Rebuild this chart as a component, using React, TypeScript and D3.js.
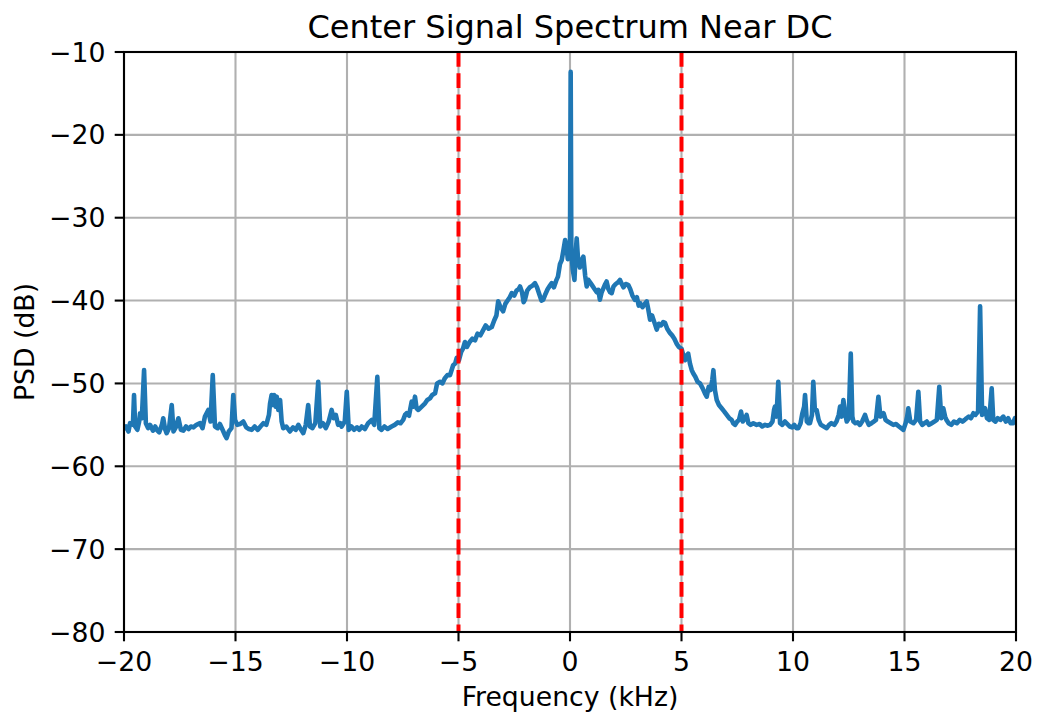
import React from 'react';
import * as d3 from 'd3';

// frequency (kHz) and PSD (dB)
const freqKHz = [
  -20.00, -19.90, -19.80, -19.73, -19.60, -19.55, -19.50, -19.40, -19.32, -19.28, -19.20, -19.10, -19.02, -18.92, -18.83,
  -18.70, -18.60, -18.53, -18.42, -18.30, -18.24, -18.16, -18.09, -17.98, -17.86, -17.78, -17.68, -17.56, -17.45, -17.34,
  -17.22, -17.10, -17.00, -16.88, -16.75, -16.59, -16.48, -16.37, -16.22, -16.12, -16.02, -15.92, -15.80, -15.70, -15.58,
  -15.48, -15.40, -15.30, -15.18, -15.10, -15.02, -14.92, -14.80, -14.65, -14.52, -14.40, -14.27, -14.14, -14.00, -13.88,
  -13.75, -13.62, -13.50, -13.45, -13.38, -13.30, -13.27, -13.20, -13.15, -13.08, -13.00, -12.93, -12.86, -12.72, -12.56,
  -12.42, -12.30, -12.18, -12.08, -11.96, -11.85, -11.74, -11.66, -11.55, -11.42, -11.29, -11.20, -11.08, -10.95, -10.82,
  -10.69, -10.60, -10.50, -10.40, -10.30, -10.24, -10.10, -10.01, -9.92, -9.80, -9.68, -9.55, -9.45, -9.34, -9.20,
  -9.05, -8.89, -8.78, -8.64, -8.55, -8.45, -8.32, -8.18, -8.00, -7.86, -7.72, -7.60, -7.48, -7.40, -7.33,
  -7.22, -7.10, -7.02, -6.95, -6.88, -6.80, -6.65, -6.50, -6.40, -6.28, -6.18, -6.05, -5.96, -5.83, -5.72,
  -5.62, -5.50, -5.38, -5.24, -5.15, -5.08, -4.98, -4.88, -4.80, -4.71, -4.62, -4.50, -4.38, -4.26, -4.15,
  -4.02, -3.90, -3.78, -3.65, -3.51, -3.40, -3.30, -3.22, -3.12, -3.00, -2.90, -2.80, -2.70, -2.61, -2.50,
  -2.40, -2.30, -2.24, -2.15, -2.08, -2.02, -1.92, -1.80, -1.68, -1.57, -1.48, -1.38, -1.28, -1.20, -1.10,
  -1.00, -0.90, -0.82, -0.72, -0.62, -0.54, -0.45, -0.37, -0.30, -0.22, -0.15, -0.10, -0.05, 0.00, 0.03,
  0.06, 0.12, 0.20, 0.25, 0.30, 0.36, 0.44, 0.52, 0.60, 0.68, 0.75, 0.82, 0.90, 1.00, 1.10,
  1.20, 1.27, 1.34, 1.42, 1.50, 1.58, 1.64, 1.72, 1.80, 1.87, 1.95, 2.05, 2.15, 2.24, 2.32,
  2.40, 2.50, 2.61, 2.70, 2.80, 2.91, 3.00, 3.08, 3.14, 3.25, 3.35, 3.44, 3.52, 3.59, 3.68,
  3.78, 3.89, 3.98, 4.08, 4.18, 4.26, 4.36, 4.48, 4.58, 4.68, 4.78, 4.88, 5.00, 5.08, 5.16,
  5.24, 5.30, 5.38, 5.46, 5.53, 5.62, 5.72, 5.83, 5.95, 6.05, 6.13, 6.22, 6.30, 6.38, 6.43,
  6.50, 6.58, 6.68, 6.80, 6.92, 7.03, 7.14, 7.25, 7.32, 7.40, 7.50, 7.58, 7.67, 7.75, 7.85,
  7.92, 8.00, 8.10, 8.22, 8.37, 8.50, 8.62, 8.75, 8.87, 8.97, 9.08, 9.15, 9.19, 9.26, 9.34,
  9.42, 9.52, 9.64, 9.75, 9.86, 9.96, 10.06, 10.15, 10.24, 10.34, 10.42, 10.50, 10.54, 10.62, 10.70,
  10.76, 10.85, 10.91, 10.98, 11.06, 11.15, 11.25, 11.38, 11.51, 11.62, 11.72, 11.85, 11.95, 12.05, 12.11,
  12.18, 12.26, 12.34, 12.41, 12.50, 12.59, 12.66, 12.71, 12.80, 12.90, 13.00, 13.10, 13.23, 13.30, 13.40,
  13.52, 13.62, 13.72, 13.83, 13.92, 14.00, 14.06, 14.15, 14.25, 14.38, 14.50, 14.62, 14.75, 14.85, 14.95,
  15.05, 15.12, 15.17, 15.26, 15.40, 15.52, 15.62, 15.70, 15.80, 15.90, 16.00, 16.10, 16.22, 16.34, 16.45,
  16.56, 16.65, 16.74, 16.82, 16.88, 16.98, 17.10, 17.22, 17.35, 17.48, 17.60, 17.70, 17.78, 17.88, 17.98,
  18.09, 18.18, 18.30, 18.39, 18.48, 18.55, 18.61, 18.70, 18.80, 18.91, 18.98, 19.08, 19.18, 19.30, 19.43,
  19.55, 19.65, 19.76, 19.87, 19.95, 20.00,
];

const psdDb = [
  -55.6, -55.2, -55.8, -54.8, -55.0, -51.4, -55.2, -55.6, -54.6, -53.6, -54.2, -48.4, -54.8, -55.4, -55.0,
  -55.7, -55.2, -55.6, -55.9, -55.0, -54.2, -55.5, -56.0, -55.4, -52.6, -55.8, -55.3, -54.2, -55.6, -55.7,
  -55.2, -55.5, -55.2, -55.3, -55.0, -54.8, -55.4, -54.0, -53.2, -54.6, -49.0, -55.2, -55.4, -54.9, -55.6,
  -56.2, -56.6, -55.8, -55.4, -51.4, -54.4, -55.0, -54.9, -54.6, -55.3, -55.5, -55.6, -55.2, -55.6, -55.2,
  -54.8, -55.0, -53.8, -52.4, -51.4, -52.6, -51.4, -52.8, -51.6, -53.2, -52.0, -54.6, -55.4, -55.2, -55.8,
  -55.3, -55.6, -55.0, -55.5, -56.0, -55.0, -52.6, -55.2, -55.4, -54.8, -49.8, -55.2, -54.8, -55.4, -54.6,
  -53.2, -54.2, -53.8, -55.0, -54.8, -55.2, -54.6, -51.0, -55.6, -55.2, -55.6, -55.3, -55.6, -55.2, -55.5,
  -54.8, -54.4, -55.0, -49.2, -55.4, -55.6, -55.2, -55.5, -55.2, -55.0, -54.7, -54.8, -54.4, -53.8, -53.6,
  -53.9, -52.2, -52.8, -51.6, -53.0, -53.2, -52.8, -52.4, -52.0, -51.8, -51.4, -51.2, -50.0, -49.8, -50.0,
  -49.4, -49.0, -49.0, -47.8, -47.6, -46.9, -47.2, -46.2, -45.8, -45.0, -45.6, -45.0, -44.6, -44.8, -44.0,
  -44.2, -43.6, -43.0, -43.4, -43.2, -42.4, -41.8, -40.1, -40.8, -41.3, -40.4, -40.0, -39.6, -39.1, -39.4,
  -38.8, -38.6, -38.3, -39.0, -40.2, -39.9, -38.8, -38.4, -38.2, -37.9, -38.4, -39.2, -40.0, -39.9, -39.2,
  -38.6, -38.2, -37.9, -38.4, -37.6, -37.1, -35.6, -35.1, -34.0, -32.7, -33.6, -35.0, -34.0, -33.1, -12.4,
  -34.0, -36.2, -37.5, -34.4, -32.5, -35.0, -36.0, -35.1, -34.7, -37.0, -38.3, -37.5, -37.8, -38.2, -38.6,
  -39.0, -38.7, -39.9, -39.0, -38.5, -38.0, -37.7, -38.6, -39.0, -39.1, -38.3, -38.0, -37.8, -37.5, -38.0,
  -38.4, -38.0, -38.1, -38.6, -39.4, -39.9, -39.6, -40.6, -40.3, -40.8, -40.4, -40.1, -41.2, -42.3, -41.8,
  -42.6, -43.5, -42.8, -43.0, -42.6, -42.7, -43.4, -43.9, -44.2, -44.6, -45.2, -45.6, -45.8, -46.6, -47.2,
  -46.6, -46.4, -47.6, -48.4, -48.8, -49.2, -49.8, -50.0, -50.6, -51.2, -51.6, -50.4, -50.8, -49.6, -48.4,
  -50.8, -52.0, -52.6, -53.0, -53.4, -53.8, -54.2, -54.4, -54.8, -55.0, -54.6, -54.4, -53.4, -54.6, -54.2,
  -53.8, -54.8, -55.0, -54.8, -55.0, -54.9, -55.2, -55.0, -55.1, -55.0, -54.6, -53.2, -52.8, -54.0, -49.8,
  -54.8, -55.0, -54.6, -54.9, -55.2, -55.3, -55.0, -55.4, -55.4, -54.8, -53.6, -52.8, -51.4, -54.6, -54.8,
  -54.8, -53.8, -49.8, -53.2, -53.2, -54.4, -55.0, -55.2, -55.4, -55.0, -54.8, -55.0, -54.6, -53.8, -52.8,
  -54.0, -52.0, -53.6, -54.6, -54.2, -46.4, -54.0, -54.6, -54.8, -54.7, -55.0, -54.6, -53.8, -54.4, -55.0,
  -54.8, -54.6, -54.4, -51.6, -54.0, -53.8, -53.6, -54.4, -54.6, -54.8, -55.0, -54.9, -55.2, -55.4, -55.6,
  -54.8, -54.0, -53.0, -54.6, -54.8, -54.4, -51.0, -54.6, -55.0, -54.8, -54.6, -55.0, -54.8, -54.6, -54.4,
  -50.4, -54.2, -53.0, -54.0, -54.4, -54.8, -55.0, -54.6, -54.8, -54.4, -54.6, -54.4, -54.2, -54.0, -54.2,
  -53.6, -53.8, -53.4, -40.7, -53.8, -53.2, -53.0, -54.2, -54.4, -50.6, -54.4, -54.6, -54.2, -54.4, -54.0,
  -54.6, -54.2, -54.8, -54.8, -54.2, -54.6,
];

const xTicks = [-20, -15, -10, -5, 0, 5, 10, 15, 20];
const yTicks = [-80, -70, -60, -50, -40, -30, -20, -10];
const cutoffs = [-5, 5];

const W = 1037;
const H = 715;
const left = 124, right = 1016, top = 52, bottom = 632;
const font = 'DejaVu Sans, sans-serif';
const minus = (v: number) => String(v).replace('-', '\u2212');

export default function App() {
  const x = d3.scaleLinear().domain([-20, 20]).range([left, right]);
  const y = d3.scaleLinear().domain([-80, -10]).range([bottom, top]);

  const pts = freqKHz.map((f, i) => [f, psdDb[i]] as [number, number]);
  const path = d3.line<[number, number]>()
    .x(d => x(d[0]))
    .y(d => y(d[1]))(pts) || '';

  return (
    <svg width={W} height={H} style={{ position: 'absolute', left: 0, top: 0, background: '#fff' }}>
      <defs>
        <clipPath id="plot">
          <rect x={left} y={top} width={right - left} height={bottom - top} />
        </clipPath>
      </defs>

      {/* grid */}
      <g stroke="#b0b0b0" strokeWidth={2.1}>
        {xTicks.map(t => <line key={'gx' + t} x1={x(t)} x2={x(t)} y1={top} y2={bottom} />)}
        {yTicks.map(t => <line key={'gy' + t} x1={left} x2={right} y1={y(t)} y2={y(t)} />)}
      </g>

      <g clipPath="url(#plot)">
        <path d={path} fill="none" stroke="#1f77b4" strokeWidth={4.6} strokeLinejoin="round" />
        {cutoffs.map(c => (
          <line key={'c' + c} x1={x(c)} x2={x(c)} y1={top} y2={bottom}
            stroke="#ff0000" strokeWidth={4} strokeDasharray="14.8 6.4" />
        ))}
      </g>

      {/* spines */}
      <rect x={left} y={top} width={right - left} height={bottom - top} fill="none" stroke="#000" strokeWidth={2.1} />

      {/* ticks */}
      <g stroke="#000" strokeWidth={2.1}>
        {xTicks.map(t => <line key={'tx' + t} x1={x(t)} x2={x(t)} y1={bottom} y2={bottom + 9.3} />)}
        {yTicks.map(t => <line key={'ty' + t} x1={left - 9.3} x2={left} y1={y(t)} y2={y(t)} />)}
      </g>
      <g fontFamily={font} fontSize={26.7} fill="#000">
        {xTicks.map(t => (
          <text key={'lx' + t} x={x(t)} y={671} textAnchor="middle">{minus(t)}</text>
        ))}
        {yTicks.map(t => (
          <text key={'ly' + t} x={left - 18.6} y={y(t)} dy="0.36em" textAnchor="end">{minus(t)}</text>
        ))}
      </g>

      <text x={(left + right) / 2} y={706} textAnchor="middle" fontFamily={font} fontSize={26.7}>Frequency (kHz)</text>
      <text transform={`translate(34, ${(top + bottom) / 2}) rotate(-90)`} textAnchor="middle" fontFamily={font} fontSize={26.7}>PSD (dB)</text>
      <text x={(left + right) / 2} y={38} textAnchor="middle" fontFamily={font} fontSize={32}>Center Signal Spectrum Near DC</text>
    </svg>
  );
}
